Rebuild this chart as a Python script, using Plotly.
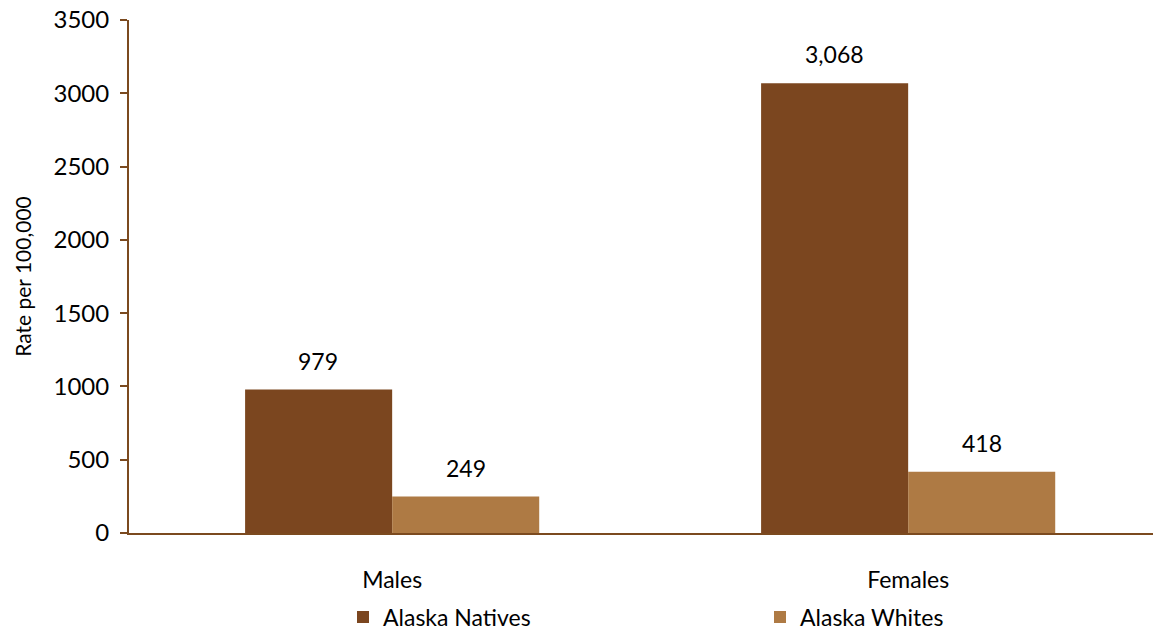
import plotly.graph_objs as go

categories = ["Males", "Females"]
natives = [979, 3068]
whites = [249, 418]
natives_text = ["979", "3,068"]
whites_text = ["249", "418"]

dark = "#7B461F"
light = "#AE7A44"
axis_color = "#7B4A1F"
font = "Lato, Carlito, Calibri, sans-serif"

# the page adds an 8px body margin, so the figure is sized to fit the window
W, H = 1153, 625

trace_nat = go.Bar(x=categories, y=natives, name="Alaska Natives",
                   marker=dict(color=dark, line=dict(width=0)))
trace_wht = go.Bar(x=categories, y=whites, name="Alaska Whites",
                   marker=dict(color=light, line=dict(width=0)))

fig = go.Figure(data=[trace_nat, trace_wht])

# value labels above bars (half a bar width left / right of the category centre)
for cat, val, txt in zip(categories, natives, natives_text):
    fig.add_annotation(x=cat, y=val, text=txt, showarrow=False, xshift=-74, yshift=29,
                       font=dict(size=23, color="black"))
for cat, val, txt in zip(categories, whites, whites_text):
    fig.add_annotation(x=cat, y=val, text=txt, showarrow=False, xshift=74, yshift=29,
                       font=dict(size=23, color="black"))

fig.update_layout(
    width=W, height=H,
    barmode="group", bargap=0.43, bargroupgap=0,
    plot_bgcolor="white", paper_bgcolor="white",
    font=dict(family=font, size=23, color="black"),
    margin=go.layout.Margin(l=121, r=0, t=12, b=100, pad=0, autoexpand=False),
    showlegend=True,
    legend=dict(orientation="h", xref="container", yref="container",
                x=335 / W, xanchor="left", y=(H - 609) / H, yanchor="middle",
                entrywidth=372, entrywidthmode="pixels", bgcolor="rgba(0,0,0,0)",
                font=dict(size=23), itemsizing="constant"),
)
fig.update_xaxes(range=[-0.51, 1.49], showline=True, linecolor=axis_color, linewidth=2,
                 ticks="", ticklabelstandoff=25, tickfont=dict(size=23), automargin=False)
fig.update_yaxes(range=[0, 3500], tickmode="array", tickvals=[0, 500, 1000, 1500, 2000, 2500, 3000, 3500],
                 showline=True, linecolor=axis_color, linewidth=2,
                 ticks="outside", tickcolor=axis_color, ticklen=7, tickwidth=2,
                 ticklabelstandoff=6, ticklabeloverflow="allow",
                 showgrid=False, zeroline=False, tickfont=dict(size=24), automargin=False,
                 title=dict(text="Rate per 100,000", font=dict(size=21), standoff=16))

fig.write_html("out.html")
